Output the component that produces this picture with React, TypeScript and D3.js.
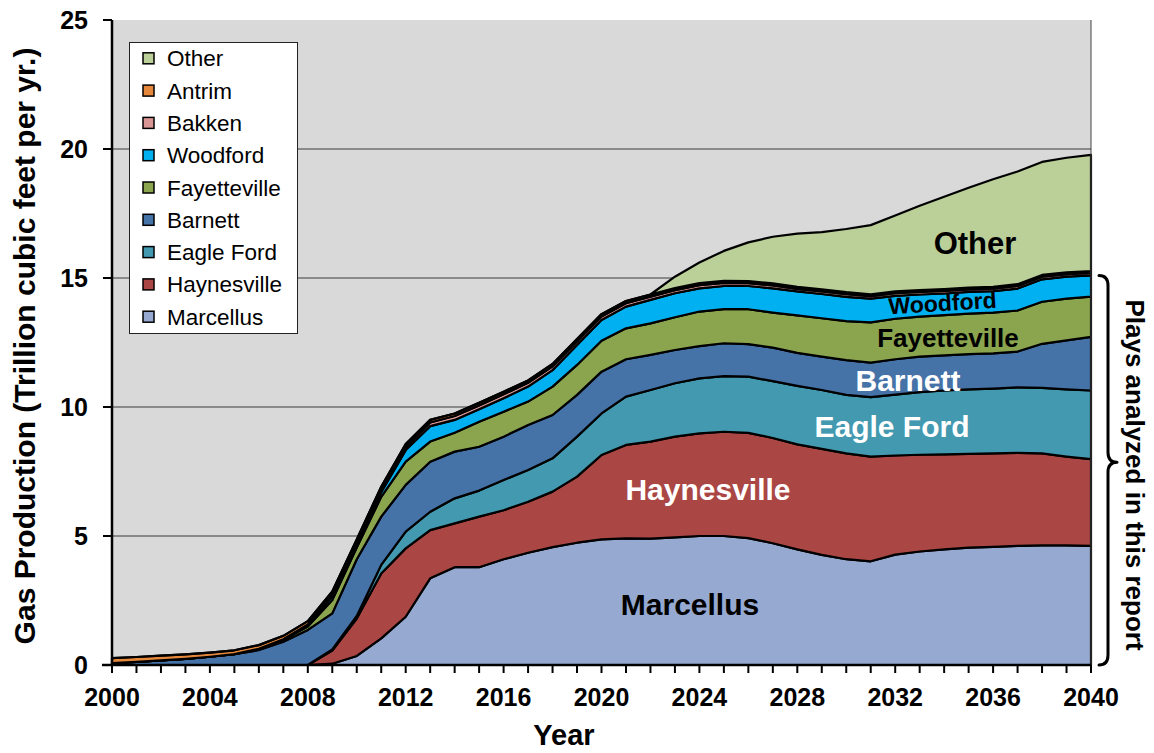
import React from "react";
import * as d3 from "d3";

const years = [2000,2001,2002,2003,2004,2005,2006,2007,2008,2009,2010,2011,2012,2013,2014,2015,2016,2017,2018,2019,2020,2021,2022,2023,2024,2025,2026,2027,2028,2029,2030,2031,2032,2033,2034,2035,2036,2037,2038,2039,2040];

const marcellus = [0,0,0,0,0,0,0,0,0,0.05,0.35,1.03,1.87,3.36,3.79,3.79,4.1,4.35,4.57,4.74,4.87,4.91,4.9,4.95,5.0,5.0,4.92,4.72,4.48,4.27,4.1,4.02,4.28,4.4,4.48,4.55,4.58,4.62,4.64,4.64,4.62];
const haynesville = [0,0,0,0,0,0,0,0,0,0.51,1.45,2.52,2.65,1.87,1.70,1.96,1.90,1.98,2.15,2.56,3.27,3.62,3.76,3.90,3.98,4.04,4.08,4.08,4.07,4.11,4.10,4.06,3.84,3.75,3.68,3.63,3.62,3.60,3.56,3.44,3.36];
const eagleFord = [0,0,0,0,0,0,0,0,0,0.04,0.10,0.33,0.65,0.71,0.97,1.01,1.17,1.23,1.29,1.55,1.61,1.87,2.00,2.07,2.13,2.16,2.18,2.20,2.27,2.28,2.27,2.30,2.36,2.43,2.48,2.50,2.51,2.54,2.54,2.60,2.66];
const barnett = [0.07,0.12,0.18,0.24,0.32,0.42,0.58,0.90,1.36,1.40,2.20,1.87,1.81,1.94,1.81,1.70,1.68,1.74,1.68,1.62,1.62,1.45,1.36,1.29,1.25,1.27,1.26,1.30,1.28,1.29,1.35,1.34,1.37,1.37,1.36,1.37,1.37,1.39,1.71,1.90,2.08];
const fayetteville = [0,0,0,0,0,0,0.04,0.08,0.13,0.52,0.45,0.77,0.90,0.78,0.73,0.97,0.97,0.91,1.10,1.16,1.20,1.20,1.22,1.27,1.34,1.32,1.35,1.36,1.45,1.49,1.51,1.56,1.57,1.55,1.56,1.57,1.58,1.59,1.63,1.62,1.56];
const woodford = [0,0,0,0,0,0,0.01,0.02,0.05,0.15,0.12,0.18,0.45,0.60,0.50,0.48,0.52,0.58,0.64,0.77,0.80,0.84,0.91,0.93,0.90,0.90,0.90,0.94,0.93,0.94,0.94,0.92,0.89,0.86,0.84,0.84,0.83,0.85,0.87,0.85,0.82];
const bakken = [0,0,0,0,0,0,0,0,0.03,0.06,0.08,0.10,0.12,0.14,0.15,0.15,0.15,0.15,0.15,0.14,0.14,0.13,0.13,0.12,0.12,0.12,0.11,0.11,0.10,0.10,0.10,0.10,0.10,0.10,0.10,0.10,0.10,0.10,0.10,0.10,0.10];
const antrim = [0.20,0.19,0.18,0.17,0.16,0.15,0.14,0.13,0.13,0.12,0.12,0.11,0.11,0.10,0.10,0.10,0.10,0.09,0.09,0.09,0.09,0.09,0.08,0.08,0.08,0.08,0.08,0.08,0.08,0.08,0.08,0.07,0.07,0.07,0.07,0.07,0.07,0.07,0.07,0.07,0.07];
const other = [0,0,0,0,0,0,0,0,0,0,0,0,0,0,0,0,0,0,0,0,0,0,0,0.44,0.80,1.16,1.50,1.81,2.06,2.22,2.45,2.68,2.94,3.27,3.58,3.87,4.17,4.37,4.38,4.44,4.50];

const seriesNames = ["Marcellus","Haynesville","Eagle Ford","Barnett","Fayetteville","Woodford","Bakken","Antrim","Other"];
const seriesValues = [marcellus,haynesville,eagleFord,barnett,fayetteville,woodford,bakken,antrim,other];
const seriesColors = ["#95a9d1","#aa4644","#4399af","#4572a7","#8ba54e","#00b0f0","#d99694","#e6883c","#bbcf98"];

const yTicks = [0,5,10,15,20,25];
const xLabelTicks = [2000,2004,2008,2012,2016,2020,2024,2028,2032,2036,2040];

const FONT = "'Liberation Sans', Arial, Helvetica, sans-serif";

export default function App() {
  const left = 112, right = 1091, top = 20, bottom = 665;
  const x = d3.scaleLinear().domain([2000, 2040]).range([left, right]);
  const y = d3.scaleLinear().domain([0, 25]).range([bottom, top]);

  const table = years.map((yr, i) => {
    const row: any = { year: yr };
    seriesNames.forEach((n, k) => { row[n] = seriesValues[k][i]; });
    return row;
  });
  const stacked = d3.stack().keys(seriesNames)(table);
  const area = d3.area<any>()
    .x((d) => x(d.data.year))
    .y0((d) => y(d[0]))
    .y1((d) => y(d[1]))
    .curve(d3.curveLinear);

  const legendOrder = [...seriesNames].reverse();

  const braceX = 1108;
  const braceTop = y(15.1);
  const braceBot = y(0);
  const braceMid = (braceTop + braceBot) / 2 - 8;
  const bracePath = `M ${braceX - 9} ${braceTop} Q ${braceX} ${braceTop} ${braceX} ${braceTop + 10}
    L ${braceX} ${braceMid - 10} Q ${braceX} ${braceMid} ${braceX + 9} ${braceMid}
    Q ${braceX} ${braceMid} ${braceX} ${braceMid + 10}
    L ${braceX} ${braceBot - 10} Q ${braceX} ${braceBot} ${braceX - 9} ${braceBot}`;

  return (
    <svg width={1154} height={753} style={{ position: "absolute", left: 0, top: 0, background: "#fff" }} fontFamily={FONT}>
      <rect x={left} y={top} width={right - left} height={bottom - top} fill="#d9d9d9" />
      {yTicks.filter((t) => t > 0 && t < 25).map((t) => (
        <line key={t} x1={left} x2={right} y1={y(t)} y2={y(t)} stroke="#3a3a3a" strokeWidth={1} />
      ))}
      {stacked.map((s, i) => (
        <path key={s.key} d={area(s as any) || ""} fill={seriesColors[i]} stroke="#000" strokeWidth={2.2} strokeLinejoin="round" />
      ))}
      <line x1={right} x2={right} y1={top} y2={bottom} stroke="#444" strokeWidth={1} />
      <line x1={left} x2={left} y1={top} y2={bottom + 1} stroke="#000" strokeWidth={2.5} />
      <line x1={left - 10} x2={right} y1={bottom} y2={bottom} stroke="#000" strokeWidth={2.5} />
      {yTicks.map((t) => (
        <g key={t}>
          <line x1={left - 9} x2={left} y1={y(t)} y2={y(t)} stroke="#000" strokeWidth={2} />
          <text x={88} y={y(t) + 9} textAnchor="end" fontSize={25} fontWeight="bold">{t}</text>
        </g>
      ))}
      {years.map((yr) => (
        <line key={yr} x1={x(yr)} x2={x(yr)} y1={bottom} y2={bottom + 8} stroke="#000" strokeWidth={2} />
      ))}
      {xLabelTicks.map((yr) => (
        <text key={yr} x={x(yr)} y={706} textAnchor="middle" fontSize={25} fontWeight="bold">{yr}</text>
      ))}
      <text x={564} y={745} textAnchor="middle" fontSize={29} fontWeight="bold">Year</text>
      <text transform={`translate(35, 346) rotate(-90)`} textAnchor="middle" fontSize={30} fontWeight="bold">
        Gas Production (Trillion cubic feet per yr.)
      </text>

      <rect x={129.5} y={42.5} width={168} height={291} fill="#fff" stroke="#222" strokeWidth={1} />
      {legendOrder.map((n, i) => {
        const k = seriesNames.indexOf(n);
        const cy = 58.3 + i * 32.3;
        return (
          <g key={n}>
            <rect x={143} y={cy - 5.5} width={11} height={11} fill={seriesColors[k]} stroke="#000" strokeWidth={1.5} />
            <text x={167} y={cy + 8} fontSize={22.5}>{n}</text>
          </g>
        );
      })}

      <text x={975} y={254} textAnchor="middle" fontSize={31} fontWeight="bold" fill="#000">Other</text>
      <text transform="translate(943, 311) rotate(-3.5)" textAnchor="middle" fontSize={23} fontWeight="bold" fill="#000">Woodford</text>
      <text x={948} y={347} textAnchor="middle" fontSize={26} fontWeight="bold" fill="#000">Fayetteville</text>
      <text x={908} y={391} textAnchor="middle" fontSize={30} fontWeight="bold" fill="#fff">Barnett</text>
      <text x={892} y={437} textAnchor="middle" fontSize={30} fontWeight="bold" fill="#fff">Eagle Ford</text>
      <text x={708} y={500} textAnchor="middle" fontSize={30} fontWeight="bold" fill="#fff">Haynesville</text>
      <text x={690} y={615} textAnchor="middle" fontSize={30} fontWeight="bold" fill="#000">Marcellus</text>

      <path d={bracePath} fill="none" stroke="#000" strokeWidth={3} strokeLinecap="round" strokeLinejoin="round" />
      <text transform="translate(1126, 475) rotate(90)" textAnchor="middle" fontSize={26} fontWeight="bold">
        Plays analyzed in this report
      </text>
    </svg>
  );
}
